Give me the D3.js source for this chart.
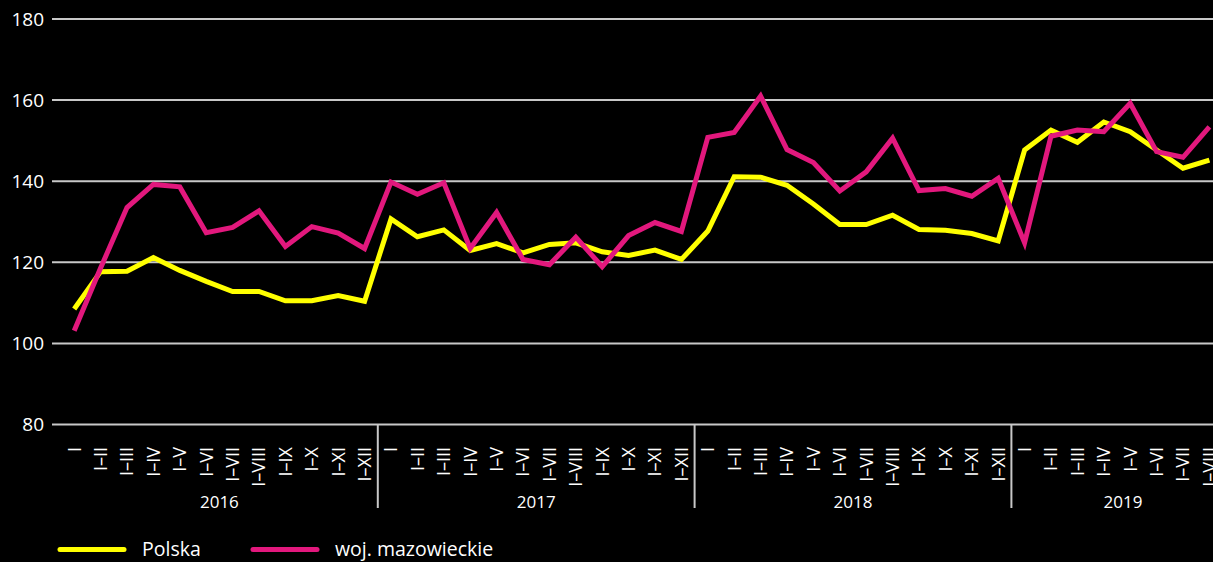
<!DOCTYPE html>
<html>
<head>
<meta charset="utf-8">
<script src="https://cdn.jsdelivr.net/npm/d3@7"></script>
<style>
  body { margin: 0; background: #000; }
  text { font-family: "Open Sans", "Noto Sans", sans-serif; fill: #fff; }
</style>
</head>
<body>
<div id="chart-area"></div>
<script>
// data
var years = ["2016", "2017", "2018", "2019"];
var monthsPerYear = [12, 12, 12, 8];
var monthLabels = ["I", "I–II", "I–III", "I–IV", "I–V", "I–VI", "I–VII", "I–VIII", "I–IX", "I–X", "I–XI", "I–XII"];
var yTicks = [80, 100, 120, 140, 160, 180];

var polska = [
    108.5, 117.7, 117.8, 121.2, 118.0, 115.3, 112.8, 112.8, 110.5, 110.5, 111.8, 110.4,
    130.7, 126.3, 128.0, 122.9, 124.6, 122.3, 124.4, 124.8, 122.6, 121.7, 123.0, 120.7,
    127.7, 141.1, 141.0, 139.0, 134.4, 129.3, 129.3, 131.6, 128.1, 127.9, 127.1, 125.3,
    147.7, 152.6, 149.6, 154.6, 152.2, 147.7, 143.2, 145.2
];
var mazowieckie = [
    103.1, 118.6, 133.5, 139.2, 138.6, 127.3, 128.6, 132.7, 123.9, 128.8, 127.2, 123.4,
    139.8, 136.8, 139.6, 123.4, 132.3, 120.7, 119.4, 126.2, 118.9, 126.6, 129.8, 127.6,
    150.8, 152.0, 161.0, 147.8, 144.6, 137.6, 142.3, 150.6, 137.7, 138.2, 136.3, 140.7,
    124.8, 151.1, 152.6, 152.2, 159.2, 147.3, 145.9, 153.4
];

var width = 1213, height = 562;
var colors = { polska: "#ffff00", maz: "#e2187d" };

// categories: year + month label
var categories = [];
years.forEach(function(y, yi){
    for (var m = 0; m < monthsPerYear[yi]; m++) {
        categories.push({ key: y + "-" + m, year: y, label: monthLabels[m] });
    }
});

var svg = d3.select("#chart-area").append("svg")
    .attr("width", width)
    .attr("height", height)
    .style("background", "#000");

var x = d3.scaleBand()
    .domain(categories.map(function(d){ return d.key; }))
    .range([61, 61 + categories.length * 26.4]);

var y = d3.scaleLinear()
    .domain([80, 180])
    .range([424.5, 19]);

// gridlines
svg.selectAll(".grid")
    .data(yTicks)
    .enter()
    .append("line")
        .attr("x1", 52)
        .attr("x2", width)
        .attr("y1", function(d){ return y(d); })
        .attr("y2", function(d){ return y(d); })
        .attr("stroke", "#c8c8c8")
        .attr("stroke-width", 2);

// y labels
svg.selectAll(".ylab")
    .data(yTicks)
    .enter()
    .append("text")
        .attr("x", 44)
        .attr("y", function(d){ return y(d) + 6.8; })
        .attr("text-anchor", "end")
        .attr("font-size", "19px")
        .text(function(d){ return d; });

// month tick labels (rotated)
svg.selectAll(".xlab")
    .data(categories)
    .enter()
    .append("text")
        .attr("transform", function(d){
            return "translate(" + (x(d.key) + x.bandwidth() / 2) + ",447) rotate(-90)";
        })
        .attr("dy", "0.36em")
        .attr("text-anchor", "end")
        .attr("font-size", "18px")
        .text(function(d){ return d.label; });

// year separators and labels
var offset = 0;
years.forEach(function(yr, yi){
    var first = categories[offset].key;
    var last = categories[offset + monthsPerYear[yi] - 1].key;
    var x0 = x(first), x1 = x(last) + x.bandwidth();
    if (yi > 0) {
        svg.append("line")
            .attr("x1", x0).attr("x2", x0)
            .attr("y1", y(80)).attr("y2", 508)
            .attr("stroke", "#c8c8c8")
            .attr("stroke-width", 2);
    }
    svg.append("text")
        .attr("x", (x0 + x1) / 2 + (yi === 3 ? 6 : 0))
        .attr("y", 508)
        .attr("text-anchor", "middle")
        .attr("font-size", "17px")
        .text(yr);
    offset += monthsPerYear[yi];
});

// lines
var line = d3.line()
    .x(function(d, i){ return x(categories[i].key) + x.bandwidth() / 2; })
    .y(function(d){ return y(d); });

svg.append("path")
    .datum(polska)
    .attr("d", line)
    .attr("fill", "none")
    .attr("stroke", colors.polska)
    .attr("stroke-width", 5)
    .attr("stroke-linejoin", "miter");

svg.append("path")
    .datum(mazowieckie)
    .attr("d", line)
    .attr("fill", "none")
    .attr("stroke", colors.maz)
    .attr("stroke-width", 5)
    .attr("stroke-linejoin", "miter");

// legend
var legend = [
    { name: "Polska", color: colors.polska, x: 60 },
    { name: "woj. mazowieckie", color: colors.maz, x: 253 }
];
legend.forEach(function(l){
    svg.append("line")
        .attr("x1", l.x).attr("x2", l.x + 64)
        .attr("y1", 549.5).attr("y2", 549.5)
        .attr("stroke", l.color)
        .attr("stroke-width", 5)
        .attr("stroke-linecap", "round");
    svg.append("text")
        .attr("x", l.x + 82)
        .attr("y", 555.5)
        .attr("font-size", "19.5px")
        .text(l.name);
});
</script>
</body>
</html>
